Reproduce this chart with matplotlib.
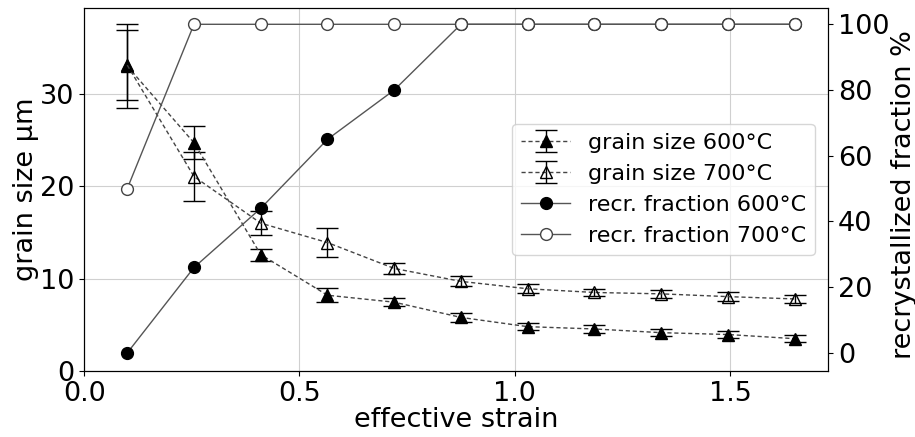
import matplotlib
matplotlib.use("Agg")
import matplotlib.pyplot as plt

strain = [0.1, 0.255, 0.41, 0.565, 0.72, 0.875, 1.03, 1.185, 1.34, 1.495, 1.65]

gs600 = [33.0, 24.7, 12.6, 8.2, 7.45, 5.8, 4.8, 4.55, 4.15, 3.95, 3.5]
gs600_err = [4.5, 1.8, 0.65, 0.75, 0.45, 0.5, 0.4, 0.4, 0.4, 0.4, 0.4]
gs700 = [33.1, 21.05, 16.0, 13.9, 11.1, 9.7, 8.9, 8.5, 8.35, 8.05, 7.8]
gs700_err = [3.8, 2.65, 1.3, 1.6, 0.55, 0.55, 0.5, 0.4, 0.45, 0.45, 0.4]

rf600 = [0, 26, 44, 65, 80, 100, 100, 100, 100, 100, 100]
rf700 = [50, 100, 100, 100, 100, 100, 100, 100, 100, 100, 100]

plt.rcParams['font.size'] = 19.5

fig = plt.figure(figsize=(9.15, 4.37), dpi=100)
ax = fig.add_axes([0.092, 0.151, 0.813, 0.831])
ax2 = ax.twinx()

ax.errorbar(strain, gs600, yerr=gs600_err, fmt='^--', color='#444444', mfc='k', mec='k',
            ecolor='k', lw=1, ms=8, capsize=8, elinewidth=1, dashes=(3, 2),
            label='grain size 600°C')
ax.errorbar(strain, gs700, yerr=gs700_err, fmt='^--', color='#444444', mfc='none', mec='k',
            ecolor='k', lw=1, ms=8, capsize=8, elinewidth=1, dashes=(3, 2),
            label='grain size 700°C')

ax2.plot(strain, rf600, 'o-', color='#555555', mfc='k', mec='k', lw=1, ms=8.5,
         label='recr. fraction 600°C')
ax2.plot(strain, rf700, 'o-', color='#555555', mfc='white', mec='#444444', lw=1, ms=8.5,
         label='recr. fraction 700°C')

ax.set_xlim(0, 1.7275)
ax.set_ylim(0, 39.3)
ax.set_yticks([0, 10, 20, 30])
ax.set_xticks([0.0, 0.5, 1.0, 1.5])
ax2.set_ylim(-5.5, 105)
ax2.set_yticks([0, 20, 40, 60, 80, 100])
ax.grid(True, color='#d0d0d0', lw=0.8)

ax.set_xlabel('effective strain', labelpad=0)
ax.set_ylabel('grain size µm', labelpad=1)
ax2.set_ylabel('recrystallized fraction %', labelpad=1.5)
ax2.yaxis.label.set_y(0.487)

h1, l1 = ax.get_legend_handles_labels()
h2, l2 = ax2.get_legend_handles_labels()
ax2.legend(h1 + h2, l1 + l2, loc='center right', fontsize=16,
           handlelength=2.2, borderaxespad=0.6)

fig.savefig('out.png', dpi=100)
